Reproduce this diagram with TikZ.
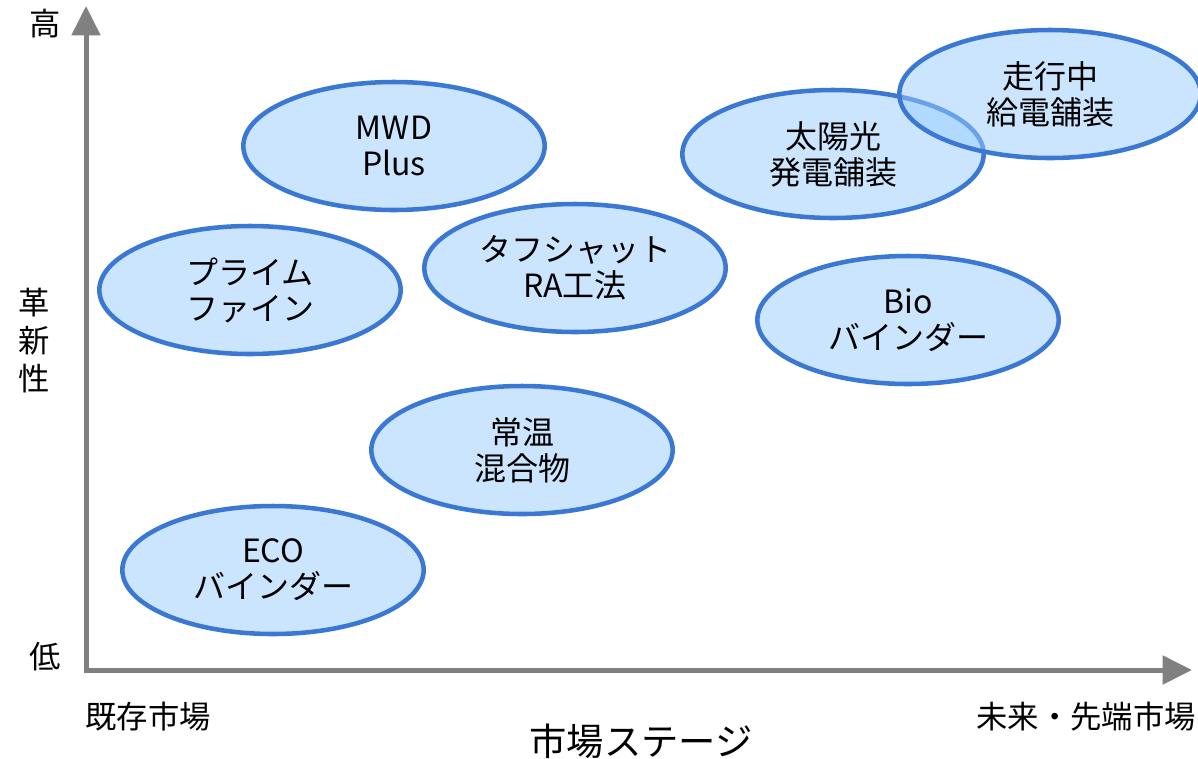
\documentclass[tikz,border=0pt]{standalone}
\usepackage{fontspec}
\setmainfont{Noto Sans CJK JP}
\usetikzlibrary{arrows.meta,shapes.geometric}

\definecolor{ovalline}{RGB}{58,120,212}
\definecolor{ovalfill}{RGB}{153,204,255}
\definecolor{axisgray}{RGB}{128,128,128}

\begin{document}
\begin{tikzpicture}[
            x=0.75pt, y=-0.75pt,
            axis/.style={
                draw=axisgray, line width=3.75pt,
                {Triangle[length=22pt,width=21pt]}-{Triangle[length=22pt,width=21pt]}
            },
            oval/.style={
                ellipse, draw=ovalline, line width=3.4pt,
                fill=ovalfill, fill opacity=0.5, text opacity=1,
                minimum width=226pt, minimum height=96pt,
                align=center, font=\fontsize{24}{27}\selectfont
            },
            lbl/.style={
                font=\fontsize{23.5}{27}\selectfont
            }
        ]
        \useasboundingbox (0,0) rectangle (1198,758);

        % axes
        \coordinate (origin) at (86,670);
        \coordinate (ytop) at (86,6);
        \coordinate (xend) at (1192,670);
        \draw[axis] (ytop) -- (origin) -- (xend);

        \node[lbl] (high) at (45,24) {高};
        \node[lbl] (low) at (45,657) {低};
        \node[lbl, align=center, font=\fontsize{23.5}{28.5}\selectfont] (innov) at (34,341) {革\\新\\性};
        \node[lbl] (existing) at (148,717) {既存市場};
        \node[lbl] (future) at (1086,717) {未来・先端市場};
        \node[lbl, font=\fontsize{28}{30}\selectfont] (stage) at (641,741) {市場ステージ};

        % products
        \node[oval] (mwd) at (394,146) {MWD\\Plus};
        \node[oval] (prime) at (250,290) {プライム\\ファイン};
        \node[oval] (tough) at (575,268) {タフシャット\\RA工法};
        \node[oval] (solar) at (833,154) {太陽光\\発電舗装};
        \node[oval] (wireless) at (1050,94) {走行中\\給電舗装};
        \node[oval] (bio) at (908,320) {Bio\\バインダー};
        \node[oval] (warm) at (522,450) {常温\\混合物};
        \node[oval] (eco) at (273,570) {ECO\\バインダー};
\end{tikzpicture}
\end{document}
